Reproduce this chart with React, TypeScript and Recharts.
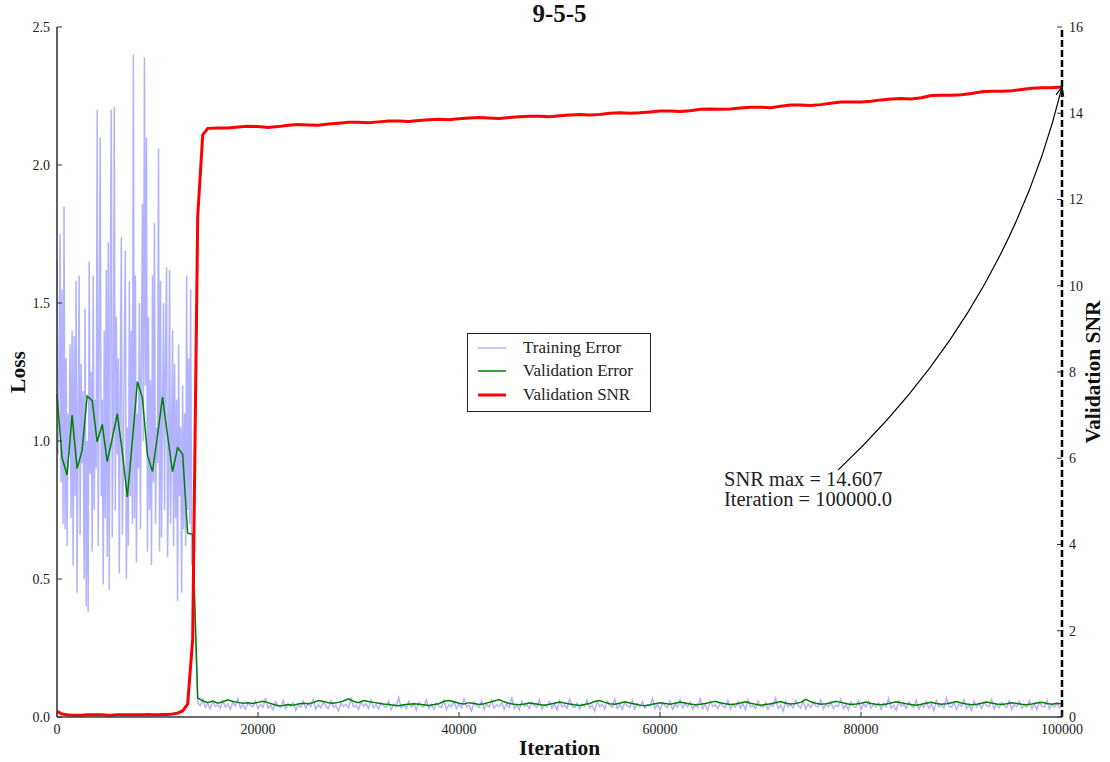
import React from 'react'
import { ComposedChart, Line, XAxis, YAxis, ReferenceLine, ReferenceDot, Legend } from 'recharts'

const SERIF = '"Liberation Serif", "DejaVu Serif", serif'
const TITLE = '9-5-5'
const X_TICKS = [0, 20000, 40000, 60000, 80000, 100000]
const LOSS_TICKS = [0, 0.5, 1.0, 1.5, 2.0, 2.5]
const SNR_TICKS = [0, 2, 4, 6, 8, 10, 12, 14, 16]

// training error: every 100 its before the drop, every 250 after
const TRAIN_EARLY_STEP = 100
const trainEarly = [
  1.65, 0.95, 1.2, 1.75, 0.85, 1.55, 0.7, 1.85, 0.68, 1.3,
  0.62, 1.1, 0.95, 1.35, 0.72, 1.4, 0.55, 1.38, 0.8, 1.58,
  0.45, 1.05, 1.6, 0.66, 1.28, 0.92, 1.18, 0.5, 1.48, 0.4,
  1.0, 0.38, 1.65, 0.88, 1.25, 0.6, 1.6, 0.75, 1.15, 0.9,
  2.2, 0.62, 1.35, 2.1, 0.8, 1.15, 0.48, 1.4, 0.72, 1.62,
  0.58, 1.72, 0.46, 1.55, 2.2, 0.65, 1.1, 2.21, 0.75, 1.45,
  0.95, 1.3, 0.52, 1.2, 1.74, 0.66, 0.9, 1.35, 1.69, 0.5,
  1.05, 0.62, 1.58, 0.8, 1.4, 0.7, 2.4, 0.72, 1.6, 0.56,
  1.1, 0.9, 1.5, 0.68, 1.3, 1.86, 1.0, 2.39, 1.2, 2.1,
  0.6, 1.45, 0.75, 1.22, 0.55, 1.6, 0.85, 1.79, 0.7, 1.05,
  0.92, 2.06, 0.6, 1.58, 0.65, 1.1, 1.5, 0.75, 1.32, 1.63,
  0.58, 0.85, 1.62, 0.7, 1.0, 1.4, 0.62, 1.28, 0.72, 1.15,
  0.42, 1.35, 0.8, 1.05, 0.45, 1.2, 0.68, 1.1, 0.62, 1.6,
  0.75, 1.3, 0.7, 1.55, 0.55, 0.6,
]
const TRAIN_LATE_START = 14000
const TRAIN_LATE_STEP = 250
const trainLate = [
  .052, .041, .063, .035, .048, .029, .057, .038, .044, .031, .060, .036, .047, .027, .054,
  .039, .066, .033, .045, .028, .051, .042, .037, .058, .030, .046, .035, .069, .032, .043,
  .026, .055, .040, .034, .061, .029, .047, .038, .052, .024, .044, .036, .057, .031, .049,
  .037, .064, .028, .045, .033, .053, .040, .030, .059, .035, .042, .021, .050, .038, .046,
  .032, .067, .036, .043, .027, .055, .039, .048, .031, .062, .034, .045, .029, .052, .040,
  .035, .058, .026, .047, .038, .070, .033, .044, .030, .056, .037, .049, .025, .053, .041,
  .036, .063, .031, .046, .028, .051, .039, .034, .060, .027, .045, .038, .055, .030, .048,
  .033, .066, .037, .042, .022, .054, .040, .035, .058, .029, .047, .036, .061, .032, .044,
  .038, .052, .027, .049, .034, .072, .031, .043, .026, .057, .039, .046, .030, .053, .041,
  .035, .062, .029, .045, .037, .056, .032, .048, .024, .059, .036, .044, .031, .065, .040,
  .034, .050, .028, .047, .039, .061, .033, .042, .020, .055, .038, .046, .030, .058, .043,
  .036, .064, .031, .045, .027, .053, .040, .035, .060, .029, .048, .037, .056, .032, .044,
  .039, .068, .030, .046, .025, .052, .041, .034, .057, .028, .045, .036, .062, .033, .049,
  .037, .054, .029, .043, .035, .066, .031, .047, .023, .058, .038, .044, .030, .051, .040,
  .034, .060, .028, .046, .036, .055, .033, .049, .026, .063, .037, .042, .031, .057, .039,
  .035, .052, .027, .048, .038, .069, .030, .044, .021, .056, .036, .045, .032, .060, .041,
  .033, .058, .029, .047, .034, .053, .040, .036, .062, .028, .046, .037, .055, .031, .043,
  .038, .065, .030, .044, .026, .054, .039, .035, .059, .027, .048, .036, .057, .033, .045,
  .036, .051, .028, .049, .037, .067, .032, .043, .024, .058, .039, .046, .030, .054, .042,
  .034, .061, .029, .045, .035, .056, .031, .048, .022, .060, .037, .043, .033, .070, .040,
  .035, .053, .027, .047, .038, .062, .030, .044, .025, .057, .036, .049, .031, .055, .041,
  .037, .064, .029, .046, .033, .052, .040, .034, .059, .028, .045, .038, .056, .032, .043,
  .036, .058, .030, .048, .027, .054, .039, .035, .061, .029, .046, .037, .050, .033, .044,
]

// validation error, every 500 its from 0
const VAL_STEP = 500
const valError = [
  1.17, 0.94, 0.877, 1.094, 0.90, 0.967, 1.163, 1.146, 0.997, 1.06,
  0.925, 1.01, 1.098, 0.96, 0.797, 1.0, 1.215, 1.156, 0.949, 0.889,
  1.02, 1.159, 1.02, 0.889, 0.976, 0.953, 0.666, 0.662, 0.069, 0.059,
  .052, .058, .050, .055, .062, .056, .053, .050, .052, .049, .053, .057, .052, .046, .041, .042, .045, .043, .047,
  .050, .048, .052, .060, .056, .052, .050, .053, .058, .066, .057, .052, .060, .056, .053, .050, .047, .045, .043,
  .041, .044, .046, .048, .046, .044, .042, .045, .048, .057, .060, .055, .050, .047, .052, .049, .045, .048, .053,
  .058, .063, .055, .049, .046, .044, .047, .051, .048, .045, .043, .046, .050, .054, .051, .047, .044, .042, .045,
  .049, .056, .060, .053, .048, .046, .050, .055, .051, .047, .043, .041, .044, .048, .052, .049, .046, .050, .054,
  .051, .047, .044, .046, .049, .053, .057, .052, .048, .045, .047, .051, .055, .050, .046, .043, .045, .048, .052,
  .056, .050, .047, .049, .053, .064, .055, .050, .046, .048, .052, .057, .053, .049, .045, .047, .050, .054, .049,
  .046, .044, .047, .051, .055, .052, .048, .045, .043, .046, .050, .053, .049, .046, .048, .052, .056, .051, .047,
  .044, .046, .050, .054, .051, .047, .045, .048, .052, .049, .046, .044, .047, .051, .053, .049, .046, .050, .047,
]

// validation SNR: every 500 its up to 15000, then every 1000
const SNR_EARLY_STEP = 500
const snrEarly = [
  0.13, 0.07, 0.05, 0.04, 0.04, 0.04, 0.05, 0.05, 0.05, 0.05,
  0.04, 0.04, 0.05, 0.05, 0.05, 0.05, 0.05, 0.05, 0.06, 0.05,
  0.05, 0.06, 0.06, 0.07, 0.09, 0.14, 0.3, 1.8, 11.6, 13.5,
  13.65,
]
const SNR_LATE_START = 16000
const SNR_LATE_STEP = 1000
const snrLate = [
  13.66, 13.66, 13.68, 13.70, 13.69, 13.67, 13.69, 13.72, 13.74, 13.73,
  13.72, 13.75, 13.77, 13.79, 13.79, 13.78, 13.80, 13.82, 13.82, 13.81,
  13.83, 13.85, 13.86, 13.85, 13.87, 13.89, 13.90, 13.89, 13.88, 13.90,
  13.92, 13.93, 13.93, 13.92, 13.94, 13.96, 13.97, 13.96, 13.97, 14.00,
  14.01, 14.00, 14.01, 14.03, 14.05, 14.05, 14.04, 14.06, 14.09, 14.10,
  14.09, 14.10, 14.12, 14.14, 14.14, 14.13, 14.16, 14.19, 14.19, 14.18,
  14.20, 14.23, 14.26, 14.26, 14.26, 14.28, 14.31, 14.33, 14.34, 14.33,
  14.36, 14.41, 14.42, 14.42, 14.43, 14.46, 14.50, 14.51, 14.51, 14.52,
  14.55, 14.58, 14.59, 14.59, 14.607,
]

const SNR_MAX = 14.607
const SNR_MAX_ITER = 100000

const LEGEND_ITEMS = [
  { name: 'Training Error', color: '#0000ff', opacity: 0.3, width: 1.5 },
  { name: 'Validation Error', color: '#008000', opacity: 1, width: 1.5 },
  { name: 'Validation SNR', color: '#ff0000', opacity: 1, width: 3 },
]

const toPoints = (vals: number[], start: number, step: number) =>
  vals.map((v, i) => ({ it: start + i * step, v }))

const trainData = [
  ...toPoints(trainEarly, 0, TRAIN_EARLY_STEP),
  ...toPoints(trainLate, TRAIN_LATE_START, TRAIN_LATE_STEP),
]
const valData = toPoints(valError, 0, VAL_STEP)
const snrData = [
  ...toPoints(snrEarly, 0, SNR_EARLY_STEP),
  ...toPoints(snrLate, SNR_LATE_START, SNR_LATE_STEP),
]

const tickStyle = { fill: '#222', fontSize: 14, fontFamily: SERIF }
const axisStroke = { stroke: '#3a3a3a', strokeWidth: 1.6 }
const labelStyle = { fontFamily: SERIF, fontWeight: 700, fontSize: 21.5, fill: '#111' }

function LegendBox() {
  return (
    <div style={{
      width: 184, height: 79, boxSizing: 'border-box', border: '1px solid #222', background: '#fff',
      padding: '2px 0 0 10px', fontFamily: SERIF, fontSize: 17, color: '#222',
    }}>
      {LEGEND_ITEMS.map(s => (
        <div key={s.name} style={{ display: 'flex', alignItems: 'center', height: 23.5 }}>
          <svg width={28} height={10}>
            <line x1={0} y1={5} x2={28} y2={5} stroke={s.color} strokeOpacity={s.opacity} strokeWidth={s.width} />
          </svg>
          <span style={{ marginLeft: 17 }}>{s.name}</span>
        </div>
      ))}
    </div>
  )
}

function MaxAnnotation(props: any) {
  const { cx, cy } = props
  if (cx == null || cy == null) return <g />
  const tx = cx - 224, ty = cy + 383
  const qx = cx - 55, qy = cy + 224
  const dx = cx - qx, dy = cy - qy
  const len = Math.hypot(dx, dy)
  const ux = dx / len, uy = dy / len
  const bx = cx - ux * 9, by = cy - uy * 9
  const a = `${bx - uy * 4},${by + ux * 4}`
  const b = `${bx + uy * 4},${by - ux * 4}`
  const textStyle = { fontFamily: SERIF, fontSize: 20.5, fill: '#222' }
  return (
    <g>
      <path d={`M${tx},${ty} Q${qx},${qy} ${cx},${cy}`} fill="none" stroke="#000" strokeWidth={1.2} />
      <polyline points={`${a} ${cx},${cy} ${b}`} fill="none" stroke="#000" strokeWidth={1.2} />
      <text x={cx - 338} y={cy + 399} style={textStyle}>{`SNR max = ${SNR_MAX}`}</text>
      <text x={cx - 338} y={cy + 419} style={textStyle}>{`Iteration = ${SNR_MAX_ITER.toFixed(1)}`}</text>
    </g>
  )
}

export default function App() {
  return (
    <div style={{ position: 'absolute', left: 0, top: 0, background: '#fff' }}>
      <ComposedChart width={1110} height={762} margin={{ top: 27, right: 0, bottom: 0, left: 0 }}>
        <XAxis
          dataKey="it" type="number" domain={[0, 100000]} ticks={X_TICKS} interval={0}
          height={45} tickSize={-5} tickMargin={12} tick={tickStyle}
          axisLine={axisStroke} tickLine={{ stroke: '#333' }}
          label={(p: any) => {
            const vb = p.viewBox
            const cx = vb.x + vb.width / 2
            return (
              <g>
                <text x={cx} y={vb.y + 31} textAnchor="middle" dominantBaseline="central" style={labelStyle}>Iteration</text>
                <text x={cx} y={13} textAnchor="middle" dominantBaseline="central" style={{ ...labelStyle, fontSize: 25 }}>{TITLE}</text>
              </g>
            )
          }}
        />
        <XAxis
          xAxisId="top" orientation="top" dataKey="it" type="number" domain={[0, 100000]} ticks={X_TICKS} interval={0}
          height={0} tickSize={-5} tick={false} axisLine={axisStroke} tickLine={{ stroke: '#333' }}
        />
        <YAxis
          yAxisId="loss" domain={[0, 2.5]} ticks={LOSS_TICKS} interval={0} width={57}
          tickSize={-5} tickMargin={12} tick={tickStyle} tickFormatter={(v: number) => v.toFixed(1)}
          axisLine={axisStroke} tickLine={{ stroke: '#333' }}
          label={(p: any) => {
            const vb = p.viewBox
            const x = 18, y = vb.y + vb.height / 2
            return <text x={x} y={y} transform={`rotate(-90, ${x}, ${y})`} textAnchor="middle" dominantBaseline="central" style={labelStyle}>Loss</text>
          }}
        />
        <YAxis
          yAxisId="snr" orientation="right" domain={[0, 16]} ticks={SNR_TICKS} interval={0} width={48}
          tickSize={-5} tickMargin={12} tick={tickStyle}
          axisLine={false} tickLine={{ stroke: '#333' }}
          label={(p: any) => {
            const vb = p.viewBox
            const x = vb.x + 31, y = vb.y + vb.height / 2
            return <text x={x} y={y} transform={`rotate(-90, ${x}, ${y})`} textAnchor="middle" dominantBaseline="central" style={labelStyle}>Validation SNR</text>
          }}
        />
        <Legend
          layout="vertical" align="center" verticalAlign="middle"
          wrapperStyle={{ left: 467, top: 333, width: 184, height: 79 }}
          content={() => <LegendBox />}
        />
        <Line data={trainData} dataKey="v" yAxisId="loss" type="linear" stroke="#0000ff" strokeOpacity={0.3}
          strokeWidth={1.5} dot={false} activeDot={false} isAnimationActive={false} />
        <Line data={valData} dataKey="v" yAxisId="loss" type="linear" stroke="#008000"
          strokeWidth={1.5} dot={false} activeDot={false} isAnimationActive={false} />
        <Line data={snrData} dataKey="v" yAxisId="snr" type="linear" stroke="#ff0000"
          strokeWidth={3} dot={false} activeDot={false} isAnimationActive={false} />
        <ReferenceLine x={SNR_MAX_ITER} yAxisId="snr" stroke="#000" strokeWidth={2.5} strokeDasharray="7 3" ifOverflow="visible" />
        <ReferenceDot x={SNR_MAX_ITER} y={SNR_MAX} yAxisId="snr" r={0} ifOverflow="visible" shape={(p: any) => <MaxAnnotation {...p} />} />
      </ComposedChart>
    </div>
  )
}
